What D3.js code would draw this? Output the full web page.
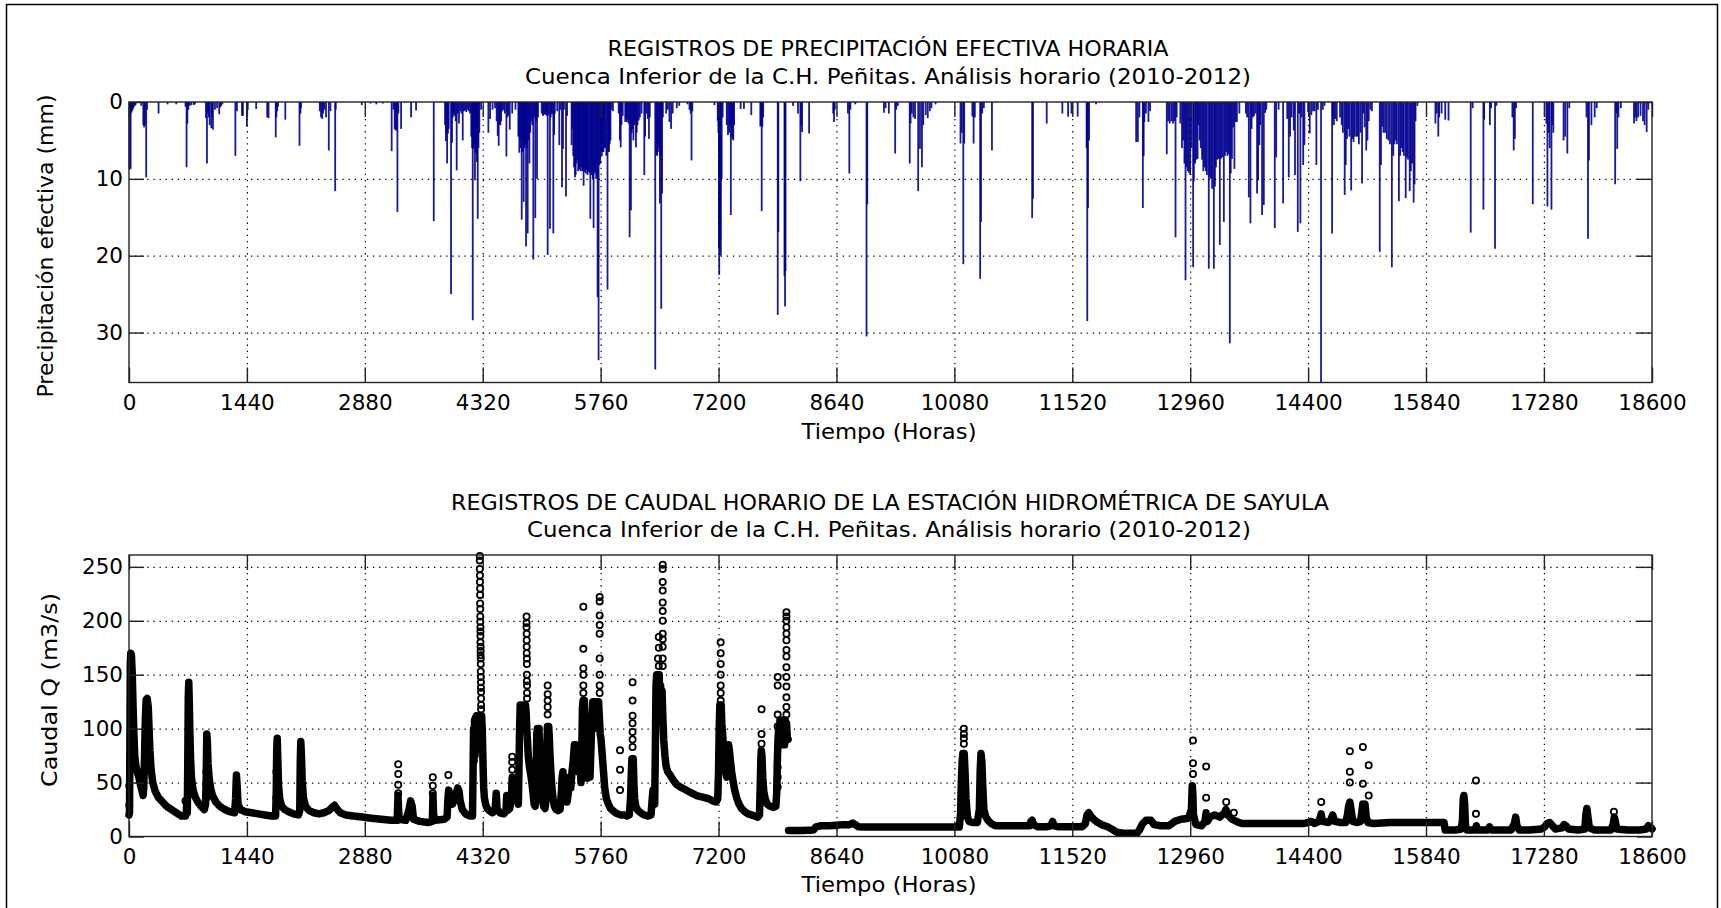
<!DOCTYPE html>
<html><head><meta charset="utf-8">
<script src="https://cdn.jsdelivr.net/npm/d3@7"></script>
<style>body{margin:0;background:#fff;}svg{display:block;}</style>
</head><body>
<svg id="c" width="1721" height="908"></svg>
<script>
// ---------------- DATA ----------------
const xTicks = [0,1440,2880,4320,5760,7200,8640,10080,11520,12960,14400,15840,17280,18600];
const precipTicks = [0,10,20,30];
const flowTicks = [0,50,100,150,200,250];

const titlePrecip = ["REGISTROS DE PRECIPITACIÓN EFECTIVA HORARIA", "Cuenca Inferior de la C.H. Peñitas. Análisis horario (2010-2012)"];
const titleFlow = ["REGISTROS DE CAUDAL HORARIO DE LA ESTACIÓN HIDROMÉTRICA DE SAYULA", "Cuenca Inferior de la C.H. Peñitas. Análisis horario (2010-2012)"];
const xLabel = "Tiempo (Horas)";
const yLabelPrecip = "Precipitación efectiva (mm)";
const yLabelFlow = "Caudal Q (m3/s)";

// hourly effective precipitation: [hour, mm]
const precipBars = [
[5,8.8],[12,1.7],[20,8.7],[28,1.4],[36,1.2],[44,1.0],[52,0.8],[60,0.6],[70,0.5],[80,0.4],[150,0.5],[175,3.0],[185,3.3],[195,3.0],[210,9.8],[220,1.0],
[361,1.5],[470,0.3],[577,0.3],[690,0.6],[703,8.5],[713,2.8],[725,1.0],[740,0.5],[760,0.4],[790,0.4],[805,0.3],
[940,2.1],[952,8.0],[965,1.5],[975,2.0],[985,3.0],[1005,3.4],[1015,2.0],[1025,3.6],[1050,1.0],[1075,0.8],[1102,1.6],[1115,0.7],[1125,0.5],[1140,0.3],
[1299,7.0],[1318,1.2],[1380,1.8],[1391,1.8],[1440,3.2],[1450,1.0],[1553,0.9],[1688,2.0],[1704,2.1],[1792,4.6],[1800,2.0],[1810,1.2],[1820,0.6],[1909,2.3],
[2082,5.7],[2094,1.5],[2100,0.8],[2330,1.2],[2345,2.0],[2360,2.2],[2370,1.5],[2385,1.0],[2406,2.0],[2440,6.3],[2460,1.2],[2518,11.6],[2525,1.0],
[2843,0.4],[2950,0.2],[3020,0.3],[3100,0.2],[3208,6.4],[3230,1.0],[3245,3.5],[3255,3.7],[3269,3.7],[3278,14.3],[3290,1.5],[3323,3.5],[3445,2.0],[3506,1.1],[3722,15.5],
[3860,3.0],[3870,5.1],[3880,4.0],[3885,8.0],[3895,4.1],[3905,3.5],[3933,25.0],[3945,5.3],[3955,2.0],[3965,1.5],[3975,1.8],[3990,2.5],[4002,8.9],[4015,1.5],[4030,2.8],[4045,1.2],[4060,1.5],[4076,5.0],[4090,1.2],[4105,1.1],[4120,1.3],[4135,1.0],[4150,1.2],[4165,1.5],
[4180,4.5],[4190,6.0],[4198,28.4],[4205,6.1],[4215,5.5],[4225,10.2],[4232,6.5],[4240,6.7],[4248,7.8],[4259,15.2],[4268,6.0],[4278,4.0],[4300,1.0],
[4389,4.0],[4410,2.2],[4440,1.0],[4470,0.8],[4490,2.5],[4503,4.4],[4515,5.7],[4525,3.0],[4535,3.0],[4545,2.5],[4560,1.2],[4575,1.0],[4590,1.5],[4609,7.1],[4620,2.0],[4635,1.8],[4650,3.6],[4680,1.5],[4720,1.0],
[4755,4.5],[4767,6.6],[4775,5.0],[4785,6.0],[4796,15.3],[4805,6.5],[4812,5.0],[4820,13.0],[4830,6.0],[4838,5.5],[4849,18.8],[4858,6.0],[4869,17.1],[4878,5.0],[4890,8.0],[4900,4.0],[4915,2.5],[4925,3.0],[4938,20.5],[4950,2.0],[4962,15.1],[4972,2.5],[4983,10.0],[4995,2.0],
[5040,1.5],[5055,1.8],[5065,1.7],[5075,1.5],[5085,1.6],[5095,1.7],[5105,1.8],[5113,19.9],[5125,1.7],[5141,16.5],[5150,2.0],[5160,1.5],[5170,1.6],[5182,17.1],[5192,4.3],[5200,1.5],[5230,1.2],[5255,5.6],[5270,1.0],[5288,11.1],[5300,6.1],[5312,1.0],[5337,12.3],[5350,1.8],
[5405,5.6],[5415,3.5],[5425,7.0],[5435,8.5],[5447,9.8],[5455,9.5],[5465,8.0],[5475,7.5],[5485,9.0],[5495,8.5],[5505,8.8],[5515,9.0],[5525,8.5],[5535,9.0],[5545,8.8],[5552,10.9],[5560,9.1],[5570,8.5],[5580,9.3],[5590,8.8],[5600,9.5],[5610,9.0],[5620,9.2],[5634,15.2],[5645,9.5],[5655,9.0],[5665,10.0],[5674,16.4],[5685,9.3],[5695,9.0],[5705,10.0],[5715,9.5],[5723,25.4],[5735,33.6],[5745,8.2],[5755,8.0],
[5765,6.1],[5775,7.0],[5785,6.5],[5795,6.5],[5805,5.9],[5815,6.0],[5830,7.0],[5844,24.4],[5853,6.5],[5862,6.5],[5870,5.5],[5880,5.0],[5890,1.0],[5910,1.2],
[5980,1.5],[5995,5.0],[6005,5.9],[6015,3.0],[6030,1.8],[6060,2.6],[6070,2.0],[6080,2.6],[6090,2.3],[6100,2.8],[6114,17.6],[6122,3.0],[6130,14.1],[6140,4.0],[6150,3.5],[6160,5.0],[6170,3.0],[6180,2.5],[6191,5.9],[6200,4.0],[6210,3.0],[6225,2.4],[6240,2.0],[6260,1.5],[6293,9.5],[6303,4.5],[6320,1.5],[6335,2.2],[6350,4.8],[6360,2.0],
[6427,34.8],[6440,6.9],[6450,7.0],[6460,6.5],[6470,6.0],[6484,13.2],[6492,7.0],[6500,26.9],[6510,11.9],[6520,2.0],[6560,1.5],[6580,1.0],[6600,2.6],[6620,3.5],[6640,1.5],[6690,0.8],[6720,0.5],[6820,0.3],[6845,1.0],[6860,1.5],[6870,7.6],[6880,1.2],[7150,0.4],
[7190,2.5],[7198,4.0],[7205,19.0],[7208,22.5],[7215,19.5],[7222,18.0],[7228,20.0],[7238,10.0],[7250,2.0],[7300,3.0],[7315,4.3],[7330,4.0],[7340,3.0],[7350,14.7],[7360,4.5],[7370,4.8],[7380,5.0],[7390,3.0],[7470,0.9],[7510,0.9],[7600,1.7],
[7710,3.2],[7720,3.0],[7727,14.2],[7735,3.2],[7745,2.0],[7923,27.7],[7930,16.9],[8005,22.6],[8012,26.6],[8018,22.0],[8110,0.5],[8170,1.5],[8199,10.3],[8210,3.0],[8220,3.9],[8306,4.1],
[8600,1.5],[8610,2.6],[8620,1.0],[8780,1.5],[8797,9.3],[8810,1.0],[8870,0.3],[9007,30.5],[9016,13.3],[9220,1.4],[9240,0.8],[9280,1.5],[9357,6.7],[9370,1.0],[9390,0.5],
[9535,8.0],[9545,2.8],[9560,1.5],[9580,2.0],[9600,2.2],[9638,11.6],[9660,6.1],[9684,8.5],[9700,3.0],[9730,1.7],[9755,2.1],[9780,1.2],[9800,0.8],[9850,0.3],
[10155,5.4],[10170,4.0],[10189,21.1],[10200,5.4],[10300,1.9],[10315,5.4],[10330,2.0],[10395,23.0],[10405,15.6],[10420,1.5],[10440,0.8],[10539,6.3],
[11030,15.1],[11040,12.6],[11208,2.8],[11399,1.5],[11469,1.9],[11510,1.5],[11586,1.9],[11695,6.0],[11703,28.5],[11712,13.8],[11725,5.0],[11810,0.3],
[12300,5.2],[12321,5.2],[12340,2.0],[12382,13.8],[12392,7.0],[12400,2.6],[12420,1.5],[12450,2.6],[12470,1.2],
[12674,6.8],[12690,2.5],[12710,2.8],[12730,2.5],[12750,2.8],[12765,2.5],[12781,17.6],[12795,2.0],[12840,2.8],[12860,6.0],[12875,5.0],[12890,8.0],[12903,23.2],[12915,8.5],[12930,9.0],[12945,9.2],[12960,9.5],[12975,6.0],[12996,21.5],
[13005,10.3],[13020,8.0],[13035,7.5],[13050,7.4],[13060,3.0],[13075,5.0],[13090,6.0],[13105,7.5],[13120,9.0],[13135,8.5],[13150,9.0],[13165,9.5],[13187,21.7],[13200,9.8],[13215,10.0],[13228,11.3],[13249,21.7],[13262,11.0],[13275,8.5],[13290,7.5],[13305,7.4],[13322,18.6],[13335,7.4],[13350,7.2],[13371,15.6],[13385,7.0],[13400,6.5],[13415,7.0],[13430,6.8],[13444,31.4],[13455,9.3],[13470,7.4],[13485,3.3],[13500,8.7],[13515,2.6],[13530,2.6],[13560,1.5],
[13640,1.5],[13655,2.0],[13676,12.4],[13696,15.8],[13710,3.5],[13725,2.0],[13740,1.8],[13760,1.5],[13777,11.9],[13790,10.2],[13805,5.6],[13815,3.0],[13838,14.7],[13859,13.4],[13875,1.4],[13890,1.0],
[13993,16.4],[14010,7.2],[14040,1.0],[14095,13.2],[14145,2.2],[14164,9.8],[14180,4.5],[14200,2.0],[14225,3.7],[14240,9.5],[14274,16.9],[14290,1.5],[14306,15.8],[14320,2.0],[14340,8.2],[14355,5.6],
[14400,1.3],[14420,4.1],[14440,1.7],[14460,1.2],[14480,1.2],[14501,8.2],[14520,1.0],[14558,36.5],[14580,1.0],[14600,0.5],
[14693,17.1],[14705,2.0],[14715,3.0],[14730,2.2],[14750,2.5],[14790,2.0],
[14810,3.0],[14825,4.0],[14847,12.1],[14860,8.2],[14875,4.8],[14890,3.5],[14905,4.5],[14926,11.5],[14940,4.8],[14955,5.2],[14970,4.5],[14990,4.5],[15005,4.5],[15020,5.5],[15040,4.0],[15059,10.6],[15075,1.5],[15090,3.3],[15110,6.3],[15125,5.0],[15140,2.5],[15160,1.0],[15180,1.2],
[15275,19.5],[15290,8.2],[15305,3.2],[15320,4.0],[15340,4.0],[15360,4.8],[15380,5.0],[15400,5.5],[15423,21.5],[15440,7.0],[15455,5.5],[15470,5.0],[15485,5.5],[15509,12.9],[15525,7.0],[15540,6.0],[15555,6.5],[15570,7.0],[15592,12.5],[15605,7.2],[15620,7.5],[15641,11.6],[15655,9.0],[15670,8.0],[15689,13.1],[15700,10.7],[15712,2.5],[15735,0.5],
[15955,2.8],[15970,1.5],[15990,4.5],[16000,2.0],[16030,1.5],[16075,2.3],[16115,2.4],
[16386,17.0],[16410,0.8],[16541,14.0],[16550,2.3],[16620,3.0],[16635,0.8],[16683,19.1],[16700,0.5],[16895,2.0],[16911,6.3],[16925,4.8],[16940,0.8],[17144,13.3],
[17310,2.8],[17323,13.6],[17335,4.0],[17350,6.0],[17372,14.0],[17380,3.0],[17395,4.0],[17520,5.0],[17540,4.5],[17566,6.7],[17590,0.8],
[17800,2.0],[17818,17.8],[17830,7.6],[17860,3.0],[17900,2.0],[17925,0.8],
[18150,10.7],[18165,1.5],[18175,6.1],[18190,2.0],[18220,0.8],
[18380,2.8],[18395,2.0],[18410,2.5],[18430,2.0],[18460,1.8],[18490,2.5],[18510,3.0],[18535,3.9],[18555,1.0]
];

// hourly discharge, dense record 2010-2011: [hour, m3/s]
const flowTraceA = [
[0,20],[6,22],[12,100],[16,160],[22,170],[30,168],[40,150],[50,120],[60,95],[70,75],[85,65],[100,60],[120,55],[140,48],[160,42],[172,38],[180,45],[190,75],[200,110],[210,127],[222,128],[235,120],[245,100],[255,80],[270,62],[290,50],[320,42],[360,36],[410,32],[460,28],[520,25],[580,22],[640,19],[690,19],[700,22],[706,33],[712,22],[718,70],[724,130],[730,143],[736,125],[744,95],[752,72],[762,55],[780,44],[805,37],[840,32],[880,28],[920,25],[935,30],[943,55],[950,95],[957,88],[965,68],[978,55],[995,45],[1020,38],[1060,32],[1110,28],[1170,25],[1230,23],[1290,22],[1302,35],[1312,57],[1320,48],[1332,30],[1360,25],[1420,23],[1500,22],[1580,21],[1660,20],[1740,19],[1790,19],[1798,40],[1804,80],[1810,91],[1818,70],[1826,48],[1840,35],[1865,28],[1900,25],[1950,23],[2010,21],[2070,20],[2085,24],[2092,70],[2098,88],[2106,75],[2115,52],[2130,36],[2155,28],[2200,24],[2260,22],[2320,21],[2380,22],[2440,24],[2480,27],[2510,29],[2535,26],[2580,22],[2650,20],[2740,19],[2850,18],[2960,17],[3080,16],[3200,15],[3275,15],[3285,38],[3292,25],[3300,16],[3380,15],[3420,25],[3440,33],[3458,28],[3475,16],[3550,14],[3650,13],[3705,14],[3712,38],[3720,20],[3740,15],[3850,16],[3885,18],[3895,35],[3905,43],[3915,40],[3925,33],[3950,30],[3975,34],[3995,40],[4015,45],[4030,42],[4045,33],[4070,25],[4110,21],[4160,19],[4195,19],
[4202,60],[4208,100],[4214,70],[4220,108],[4226,75],[4232,110],[4238,80],[4244,112],[4250,85],[4258,110],[4266,90],[4274,112],[4282,95],[4290,110],[4298,90],[4306,112],[4314,100],[4320,80],[4326,60],[4332,45],[4340,36],[4355,30],[4375,26],[4400,24],[4440,22],[4470,24],[4485,40],[4495,26],[4530,22],[4580,21],[4605,24],[4613,38],[4622,24],[4650,26],[4670,35],[4680,55],[4690,50],[4700,54],[4715,45],[4730,50],[4745,35],[4755,30],[4762,60],[4770,100],[4778,122],[4786,105],[4794,120],[4802,110],[4810,122],[4818,100],[4826,118],[4834,110],[4842,122],[4850,115],[4858,100],[4866,90],[4876,75],[4890,65],[4905,58],[4920,50],[4935,40],[4948,30],[4960,28],[4972,60],[4980,95],[4988,100],[4996,85],[5004,100],[5012,90],[5020,70],[5030,50],[5040,40],[5052,32],[5065,28],[5080,26],[5095,35],[5103,80],[5110,102],[5118,95],[5126,102],[5134,90],[5142,75],[5152,60],[5165,45],[5180,35],[5195,28],[5215,25],[5240,24],[5265,25],[5280,40],[5290,55],[5300,60],[5310,50],[5322,55],[5335,38],[5350,32],[5365,40],[5380,55],[5395,45],[5410,60],[5425,70],[5440,85],[5452,80],[5465,85],[5478,70],[5490,60],[5505,75],[5520,50],[5530,80],[5538,120],[5546,126],[5554,110],[5562,126],[5570,95],[5580,70],[5590,60],[5600,54],[5615,60],[5630,55],[5645,90],[5655,110],[5665,125],[5675,100],[5685,120],[5695,125],[5705,105],[5715,120],[5725,115],[5735,125],[5745,110],[5755,95],[5765,90],[5780,75],[5795,60],[5810,45],[5830,35],[5855,30],[5880,26],[5910,24],[5940,22],[5970,21],[6000,20],[6040,20],[6080,19],[6110,20],[6125,35],[6135,60],[6142,72],[6150,65],[6158,72],[6166,50],[6175,35],[6190,28],[6215,24],[6250,22],[6290,20],[6340,19],[6375,20],[6390,35],[6400,43],[6410,38],[6420,30],[6428,80],[6436,140],[6444,150],[6452,120],[6460,150],[6468,130],[6476,150],[6484,110],[6492,140],[6500,120],[6510,135],[6520,110],[6530,90],[6545,75],[6560,65],[6580,60],[6600,58],[6625,55],[6650,52],[6690,48],[6730,46],[6780,44],[6830,42],[6880,40],[6930,38],[6980,37],[7030,36],[7080,35],[7130,33],[7170,32],[7190,35],[7200,60],[7208,100],[7216,122],[7224,110],[7232,122],[7240,105],[7250,95],[7262,80],[7275,70],[7288,60],[7300,55],[7312,75],[7322,85],[7332,80],[7345,70],[7360,60],[7380,50],[7400,42],[7425,35],[7450,30],[7480,26],[7520,23],[7560,21],[7600,20],[7640,19],[7680,18],[7700,20],[7710,50],[7716,70],[7722,80],[7730,75],[7740,55],[7752,42],[7770,35],[7795,30],[7830,28],[7870,27],[7900,28],[7910,40],[7918,70],[7926,90],[7934,100],[7942,85],[7950,108],[7958,90],[7966,105],[7974,85],[7982,108],[7990,90],[7998,105],[8006,85],[8014,108],[8022,92],[8030,105],[8040,92],[8050,90]
];
// hourly discharge after the change of record (2011-2012)
const flowTraceB = [
[8055,5.6],[8120,5.5],[8200,5.5],[8300,5.8],[8360,6],[8390,9],[8450,10],[8550,10],[8640,10.5],[8720,11],[8800,11],[8840,12.5],[8870,11],[8910,9],[9000,8.7],[9500,8.7],[10000,8.7],[10140,8.7],[10155,20],[10165,50],[10175,70],[10183,77],[10192,70],[10200,77],[10210,60],[10222,35],[10240,18],[10260,14],[10300,13],[10360,13],[10385,25],[10395,60],[10405,77],[10415,70],[10425,50],[10440,25],[10460,19],[10490,15],[10530,12],[10580,10],[10700,10],[10900,10],[11000,10],[11015,14],[11030,15],[11045,11],[11100,9],[11200,9],[11260,10],[11280,14],[11295,10],[11350,9],[11500,9],[11640,9],[11680,12],[11700,20],[11720,22],[11745,19],[11780,16],[11830,13],[11880,11],[11950,9],[12000,7],[12060,4],[12140,3],[12250,3],[12310,3],[12340,6],[12380,12],[12420,15],[12480,15],[12520,11],
[12600,10],[12700,10],[12770,14],[12850,16],[12940,17],[12975,25],[12985,47],[12992,40],[13000,20],[13030,11],[13100,10],[13140,14],[13155,22],[13170,14],[13200,18],[13260,20],[13320,18],[13380,22],[13396,25],[13420,20],[13470,16],[13550,13],[13600,12],[13800,12],[14000,12],[14200,12],[14350,12],[14400,13],[14440,14],[14480,12],[14530,14],[14550,18],[14560,21],[14575,14],[14650,13],[14680,16],[14700,20],[14725,14],[14800,13],[14860,13],[14880,20],[14895,28],[14910,32],[14925,25],[14945,14],[15000,13],[15040,14],[15055,22],[15068,30],[15080,26],[15095,30],[15110,18],[15130,13],[15200,12],[15400,13],[15700,13],[16000,13],[16060,13],[16075,6],[16200,6],[16270,7],[16285,15],[16295,35],[16303,38],[16312,30],[16322,10],[16340,6],[16440,6],[16455,10],[16470,6],[16600,6],[16615,9],[16640,6],[16880,6],[16920,12],[16935,18],[16950,10],[16980,6],[17100,6],[17250,7],[17290,9],[17320,12],[17350,13],[17385,10],[17420,7],[17500,8],[17525,11],[17550,10],[17580,7],[17700,6],[17780,7],[17792,20],[17805,26],[17818,18],[17835,8],[17900,6],[18100,6],[18128,12],[18140,18],[18152,14],[18170,7],[18300,6],[18450,6],[18530,7],[18555,10],[18575,9],[18600,7]
];
// isolated hourly values (steep rising limbs)
const flowPointsA = [
[3,29],[3,47],[690,33],[945,36],[945,48],[945,60],[1800,36],[1800,60],
[3288,67],[3288,58],[3288,48],[3288,40],[3710,55],[3710,47],[3710,40],[3900,57],
[4284,260],[4284,256],[4284,248],[4286,242],[4286,236],[4288,230],[4288,224],[4288,216],[4290,211],[4290,204],[4290,199],[4292,194],[4292,190],[4292,186],[4292,180],[4294,176],[4294,172],[4294,168],[4296,165],[4296,160],[4296,153],[4298,148],[4298,143],[4298,138],[4300,134],[4300,128],[4300,122],[4300,118],
[4680,74],[4680,69],[4680,62],
[4855,204],[4855,198],[4855,194],[4857,188],[4857,182],[4857,176],[4857,170],[4859,165],[4859,160],[4859,150],[4859,144],[4861,140],[4861,133],[4861,128],
[5005,100],[5005,94],[5113,140],[5113,132],[5113,126],[5113,120],[5113,113],
[5549,213],[5549,174],[5549,156],[5549,150],[5549,140],[5549,133],
[5748,222],[5748,218],[5748,205],[5748,196],[5748,188],[5748,165],[5748,150],[5748,140],[5748,133],
[5997,80],[5997,62],[5997,43],
[6150,143],[6150,126],[6150,112],[6150,105],[6150,97],[6150,90],[6150,83],
[6518,252],[6518,248],[6518,236],[6518,228],[6518,217],[6518,209],[6518,200],[6518,188],[6518,183],[6518,176],[6518,165],[6518,158],
[6470,185],[6470,175],[6460,165],[6470,158],
[7226,180],[7226,170],[7226,160],[7226,150],[7226,140],[7226,133],[7226,126],
[7725,118],[7725,95],[7725,86],
[7922,148],[7922,140],[7922,113],[7922,102],[7922,64],[7922,55],[7922,46],
[8029,208],[8029,204],[8029,200],[8029,194],[8029,188],[8029,182],[8029,173],[8029,167],[8029,157],[8029,148],[8029,139],[8029,129],[8029,120],[8029,113]
];
const flowPointsB = [
[10196,100],[10196,95],[10196,91],[10196,86],[12994,58],[12994,68],[12994,89],[13155,65],[13155,36],[13400,32],[13493,22],
[14560,32],[14910,50],[14910,60],[14910,79],[15069,83],[15069,49],[15140,66],[15140,38],[16450,52],[16450,21],[18135,23]
];

// ---------------- DRAWING ----------------
const FONT = "'DejaVu Sans', 'Liberation Sans', sans-serif";
const svg = d3.select("#c").attr("font-family", FONT);

svg.append("rect").attr("width",1721).attr("height",908).attr("fill","#fff");
// figure frame
svg.append("path").attr("d","M6.5,908 L6.5,4.5 L1717.5,4.5 L1717.5,908")
  .attr("fill","none").attr("stroke","#000").attr("stroke-width",1.5);

const L = 129, R = 1652;
const x = d3.scaleLinear().domain([0,18600]).range([L,R]);
const yP = d3.scaleLinear().domain([0,36.5]).range([102,382.5]);
const yQ = d3.scaleLinear().domain([0,261]).range([836.5,555]);

function axesDecor(y, yTickVals, gridLayer, fgLayer){
  const top = d3.min(y.range()), bot = d3.max(y.range());
  // grid
  gridLayer.append("g").attr("transform",`translate(0,${bot})`)
    .call(d3.axisBottom(x).tickValues(xTicks.slice(1,-1)).tickSize(-(bot-top)).tickFormat(""))
    .call(s=>s.select(".domain").remove())
    .selectAll("line").attr("stroke","#000").attr("stroke-width",1.2).attr("stroke-dasharray","1.3,4.8");
  gridLayer.append("g").attr("transform",`translate(${L},0)`)
    .call(d3.axisLeft(y).tickValues(yTickVals.filter(v=>{const p=y(v);return p>top+1&&p<bot-1;})).tickSize(-(R-L)).tickFormat(""))
    .call(s=>s.select(".domain").remove())
    .selectAll("line").attr("stroke","#000").attr("stroke-width",1.2).attr("stroke-dasharray","1.3,4.8");
  // box
  fgLayer.append("rect").attr("x",L).attr("y",top).attr("width",R-L).attr("height",bot-top)
    .attr("fill","none").attr("stroke","#222").attr("stroke-width",1.4);
  const style = s => { s.select(".domain").remove(); s.selectAll("line").attr("stroke","#222").attr("stroke-width",1.4); };
  fgLayer.append("g").attr("transform",`translate(0,${bot})`)
    .call(d3.axisBottom(x).tickValues(xTicks).tickSizeInner(-15).tickSizeOuter(0).tickPadding(12).tickFormat(d3.format("d")))
    .call(style)
    .call(s=>s.selectAll("text").attr("font-size",21.5).attr("font-family",FONT).attr("fill","#000"));
  fgLayer.append("g").attr("transform",`translate(0,${top})`)
    .call(d3.axisTop(x).tickValues(xTicks).tickSizeInner(-15).tickSizeOuter(0).tickFormat(""))
    .call(style);
  fgLayer.append("g").attr("transform",`translate(${L},0)`)
    .call(d3.axisLeft(y).tickValues(yTickVals).tickSizeInner(-15).tickSizeOuter(0).tickPadding(6).tickFormat(d3.format("d")))
    .call(style)
    .call(s=>s.selectAll("text").attr("font-size",21.5).attr("font-family",FONT).attr("fill","#000"));
  fgLayer.append("g").attr("transform",`translate(${R},0)`)
    .call(d3.axisRight(y).tickValues(yTickVals).tickSizeInner(-15).tickSizeOuter(0).tickFormat(""))
    .call(style);
}

function label(txt, xx, yy, len, rot){
  const t = svg.append("text").text(txt).attr("font-size",22).attr("fill","#000")
    .attr("text-anchor","middle").attr("textLength",len).attr("lengthAdjust","spacingAndGlyphs");
  if(rot) t.attr("transform",`translate(${xx},${yy}) rotate(-90)`);
  else t.attr("x",xx).attr("y",yy);
}

// ---- top: precipitation ----
const gTop = svg.append("g");
const barsLayer = gTop.append("g");
const gridTop = gTop.append("g");
const fgTop = gTop.append("g");
barsLayer.selectAll("rect").data(precipBars).join("rect")
  .attr("x", d=>x(d[0])-0.9).attr("width",1.8)
  .attr("y", yP(0)).attr("height", d=>yP(d[1])-yP(0))
  .attr("fill","#00008f").attr("fill-opacity",0.9);
axesDecor(yP, precipTicks, gridTop, fgTop);

label(titlePrecip[0], 888, 56, 561, false);
label(titlePrecip[1], 888, 84, 726, false);
label(xLabel, 889, 439, 175, false);
label(yLabelPrecip, 53, 246, 303, true);

// ---- bottom: discharge ----
const gBot = svg.append("g");
const gridBot = gBot.append("g");
const dataBot = gBot.append("g");
const fgBot = gBot.append("g");
axesDecor(yQ, flowTicks, gridBot, fgBot);
const line = d3.line().x(d=>x(d[0])).y(d=>yQ(d[1]));
[flowTraceA, flowTraceB].forEach(tr=>{
  dataBot.append("path").datum(tr).attr("d",line)
    .attr("fill","none").attr("stroke","#000").attr("stroke-width",7.5)
    .attr("stroke-linejoin","round").attr("stroke-linecap","round");
});
dataBot.selectAll("circle").data(flowPointsA.concat(flowPointsB)).join("circle")
  .attr("cx",d=>x(d[0])).attr("cy",d=>yQ(d[1])).attr("r",3.1)
  .attr("fill","none").attr("stroke","#000").attr("stroke-width",1.8);

label(titleFlow[0], 890, 510, 878, false);
label(titleFlow[1], 889, 537, 724, false);
label(xLabel, 889, 892, 175, false);
label(yLabelFlow, 57, 690, 194, true);
</script>
</body></html>
